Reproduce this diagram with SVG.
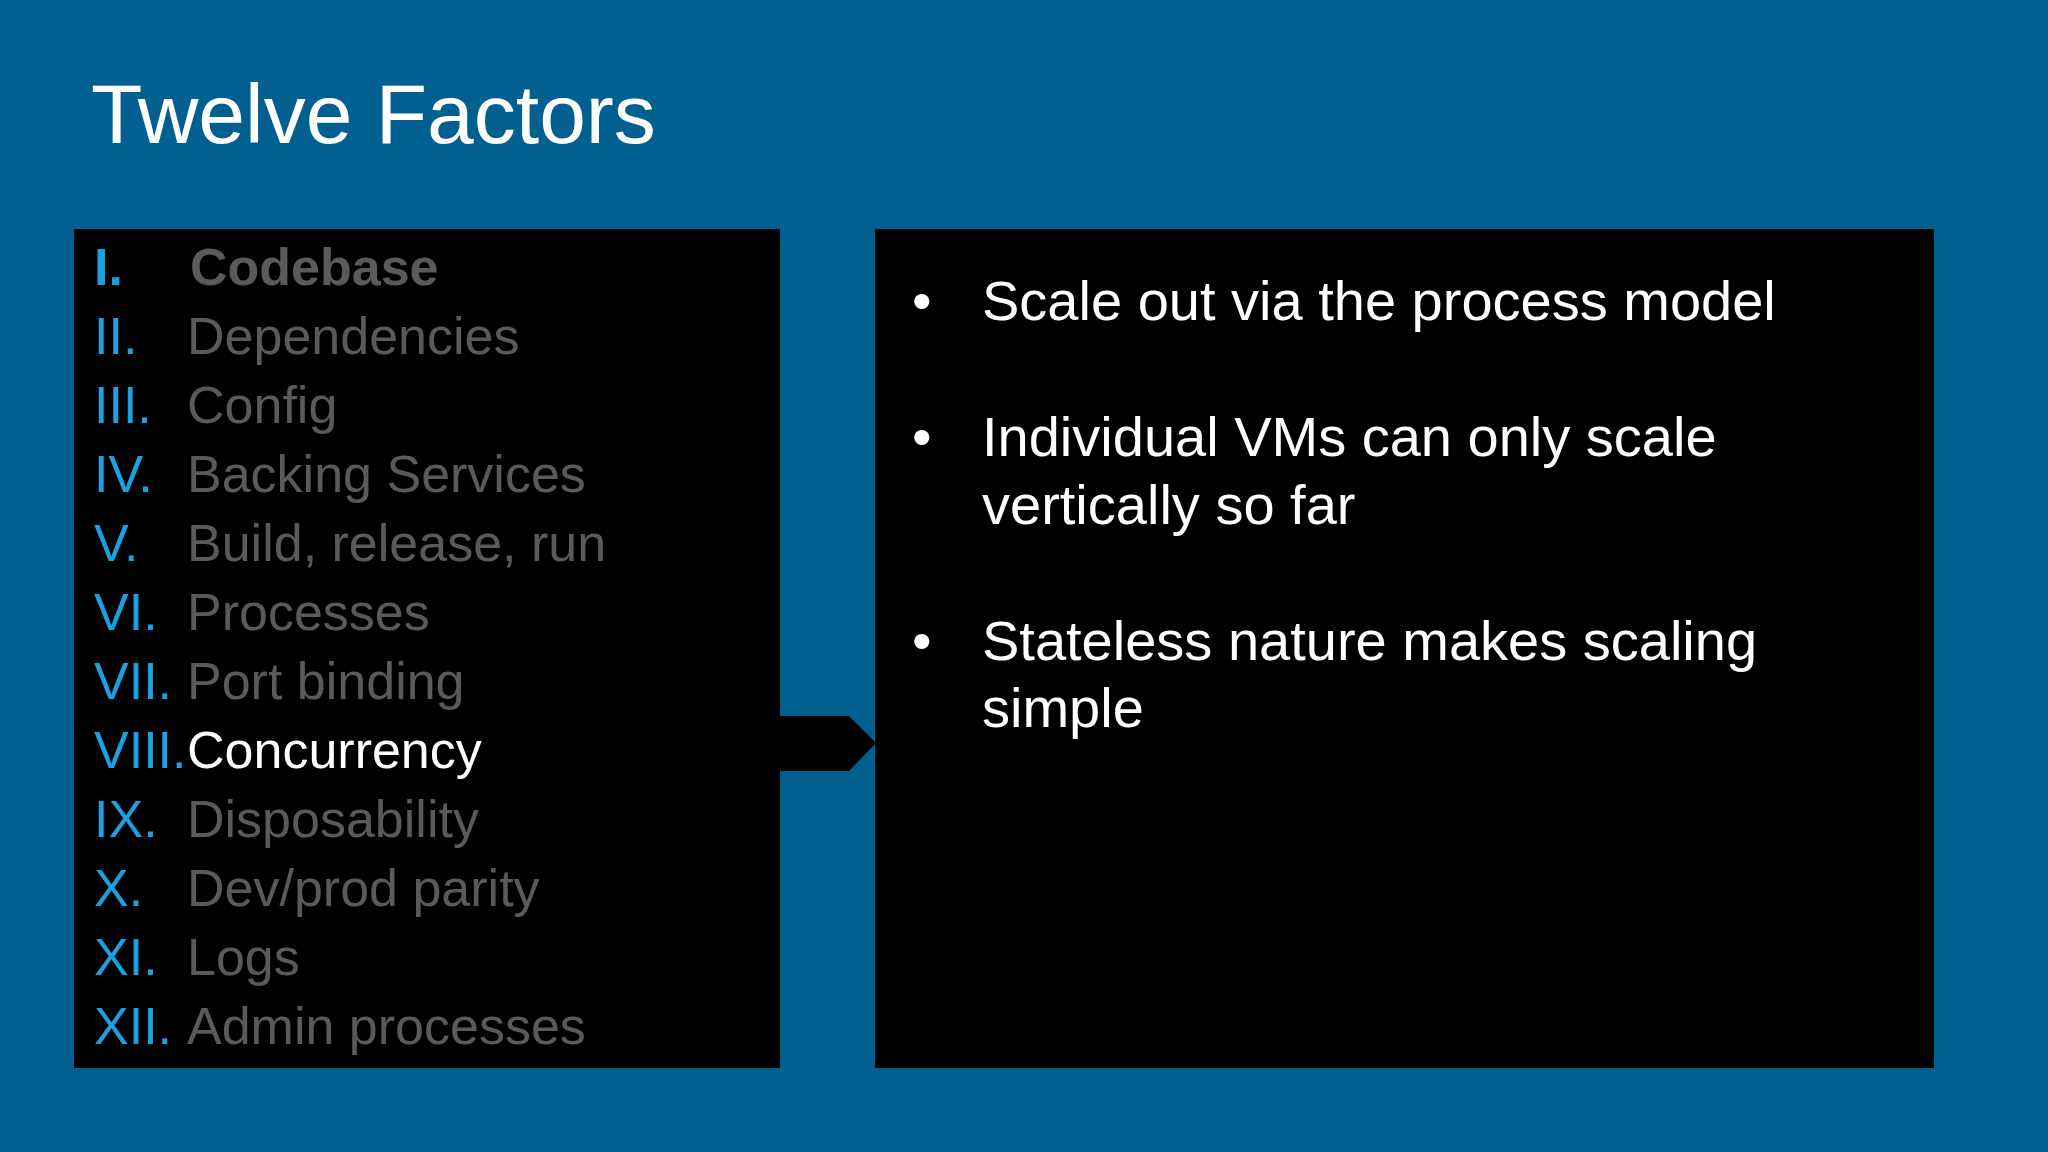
<svg xmlns="http://www.w3.org/2000/svg" width="2048" height="1152" viewBox="0 0 2048 1152">
<style>
.t{font-family:"Liberation Sans",Arial,sans-serif}
.n{fill:#1ba1e2;font-size:52px}
.g{fill:#5a5a5a;font-size:52px}
.w{fill:#ffffff;font-size:56px}
</style>
<rect width="2048" height="1152" fill="#01608f"/>
<text class="t" x="91" y="143" font-size="84" fill="#ffffff">Twelve Factors</text>
<g id="list">
<rect x="74" y="229" width="706" height="839" fill="#000"/>
<g class="t">
<text class="n" x="94" y="285" font-weight="bold">I.</text><text class="g" x="190" y="285" font-weight="bold">Codebase</text>
<text class="n" x="94" y="354">II.</text><text class="g" x="187" y="354">Dependencies</text>
<text class="n" x="94" y="423">III.</text><text class="g" x="187" y="423">Config</text>
<text class="n" x="94" y="492">IV.</text><text class="g" x="187" y="492">Backing Services</text>
<text class="n" x="94" y="561">V.</text><text class="g" x="187" y="561">Build, release, run</text>
<text class="n" x="94" y="630">VI.</text><text class="g" x="187" y="630">Processes</text>
<text class="n" x="94" y="699">VII.</text><text class="g" x="187" y="699">Port binding</text>
<text class="n" x="94" y="768">VIII.</text><text class="g" x="187" y="768" style="fill:#fff">Concurrency</text>
<text class="n" x="94" y="837">IX.</text><text class="g" x="187" y="837">Disposability</text>
<text class="n" x="94" y="906">X.</text><text class="g" x="187" y="906">Dev/prod parity</text>
<text class="n" x="94" y="975">XI.</text><text class="g" x="187" y="975">Logs</text>
<text class="n" x="94" y="1044">XII.</text><text class="g" x="187" y="1044">Admin processes</text>
</g>
</g>
<g id="connectors">
<polygon points="778,716 849,716 876,743 849,771 778,771" fill="#000"/>
</g>
<g id="detail">
<rect x="875" y="229" width="1059" height="839" fill="#000"/>
<g class="t">
<text class="w" x="912" y="320">•</text><text class="w" x="982" y="320">Scale out via the process model</text>
<text class="w" x="912" y="456">•</text><text class="w" x="982" y="456">Individual VMs can only scale</text>
<text class="w" x="982" y="524">vertically so far</text>
<text class="w" x="912" y="660">•</text><text class="w" x="982" y="660">Stateless nature makes scaling</text>
<text class="w" x="982" y="727">simple</text>
</g>
</g>
</svg>
